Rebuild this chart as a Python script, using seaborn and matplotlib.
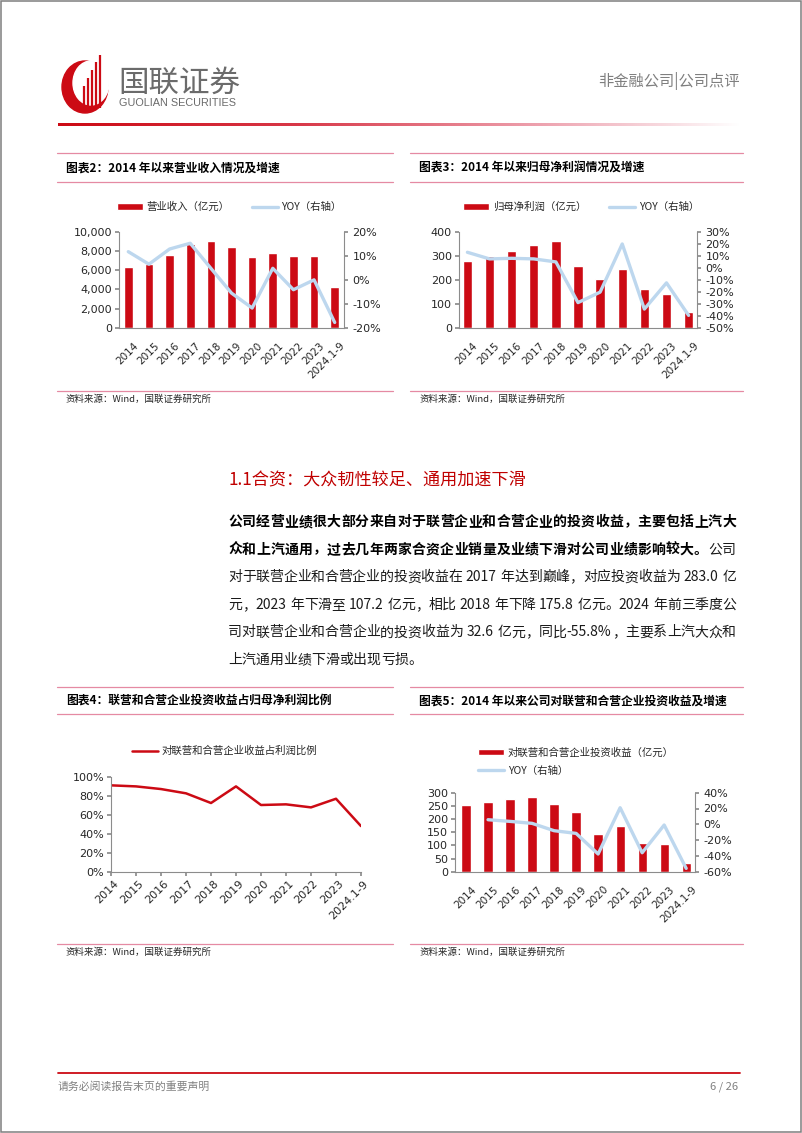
import re
import numpy as np
import pandas as pd
import matplotlib
matplotlib.use('Agg')
import matplotlib.pyplot as plt
import seaborn as sns
from matplotlib.patches import Ellipse, Rectangle
from matplotlib.ticker import FuncFormatter, MultipleLocator
import matplotlib.transforms as mtransforms

W, H = 802, 1133
sns.set_theme(style='white')
plt.rcParams['font.family'] = ['DejaVu Sans', 'Noto Sans CJK SC']
plt.rcParams['axes.unicode_minus'] = False

# ---------------- data ----------------
years = ['2014', '2015', '2016', '2017', '2018', '2019', '2020', '2021', '2022', '2023', '2024.1-9']
revenue = [6300, 6620, 7560, 8700, 9050, 8430, 7420, 7800, 7440, 7450, 4280]
revenue_yoy = [11.7, 6.5, 12.8, 15.2, 4.8, -5.5, -11.7, 4.8, -4.1, 0.0, -17.7]
profit = [279, 298, 321, 344, 361, 256, 204, 245, 161, 141, 67]
profit_yoy = [12.9, 7.4, 7.9, 7.4, 4.9, -28.9, -20.2, 19.8, -34.3, -12.5, -39.5]
ratio = [90.9, 89.8, 87.0, 82.5, 72.3, 89.8, 70.2, 70.9, 67.7, 76.8, 48.0]
invest = [253, 265, 277, 282, 257, 228, 142, 173, 108, 105, 33]
invest_yoy_years = ['2015', '2016', '2017', '2018', '2019', '2020', '2021', '2022', '2023', '2024.1-9']
invest_yoy = [5.8, 3.7, 1.2, -8.1, -11.5, -37.6, 21.0, -36.0, -0.9, -55.8]

RED = '#cc0a14'
BLUE = '#bdd7ee'
GRAY = '#8c8c8c'
PINK = '#e58aa3'
TXT = '#262626'
CJK = ['Noto Sans CJK SC', 'DejaVu Sans']

fig = plt.figure(figsize=(W / 100, H / 100), dpi=100)
ov = fig.add_axes([0, 0, 1, 1], zorder=0)
ov.set_xlim(0, W)
ov.set_ylim(H, 0)
ov.axis('off')


def rect(l, t, r, b):
    return [l / W, 1 - b / H, (r - l) / W, (b - t) / H]


def fig_pt(x, y):
    return (x / W, 1 - y / H)


# ---------------- page decorations ----------------
ov.add_patch(Rectangle((0.8, 0.8), W - 2.2, H - 2.2, fill=False, ec='#7f7f7f', lw=1.1))
# logo
ov.add_patch(Ellipse((85, 87), 46, 52, color=RED, zorder=2))
ov.add_patch(Ellipse((91, 83), 36, 44, color='white', zorder=3))
for xs, top in zip([84, 88, 92, 96, 100], [86, 78, 70, 62, 55]):
    ov.plot([xs, xs], [top, 108], color=RED, lw=1.6, zorder=4, solid_capstyle='butt')
ov.text(118, 83, '国联证券', fontsize=22, color='#6b6b6b', family=CJK, va='center', ha='left')
ov.text(119, 103, 'GUOLIAN SECURITIES', fontsize=7.8, color='#6b6b6b', family=['Liberation Sans'],
        va='center', ha='left')
ov.text(740, 81, '非金融公司|公司点评', fontsize=11, color='#7f7f7f', family=CJK, va='center', ha='right')
# gradient line
grad_ax = fig.add_axes(rect(58, 122.5, 740, 126.5), zorder=1)
g = np.linspace(0, 1, 256)[None, :]
cmap = matplotlib.colors.LinearSegmentedColormap.from_list(
    'g', [(0, RED), (0.35, '#d83848'), (0.7, '#eda0ad'), (0.9, '#f8dde2'), (1, '#ffffff')])
grad_ax.imshow(g, aspect='auto', cmap=cmap)
grad_ax.axis('off')
# footer
ov.plot([58, 740], [1072.5, 1072.5], color=RED, lw=1.3)
ov.text(58, 1087, '请务必阅读报告末页的重要声明', fontsize=7.8, color='#808080', family=CJK, va='center', ha='left')
ov.text(738, 1087, '6 / 26', fontsize=8, color='#808080', family=CJK, va='center', ha='right')


def panel(x0, x1, top, under, src, title, tx):
    ov.plot([x0, x1], [top, top], color=PINK, lw=0.9)
    ov.plot([x0, x1], [under, under], color=PINK, lw=0.9)
    ov.plot([x0, x1], [src, src], color=PINK, lw=0.9)
    ov.text(tx, (top + under) / 2 + 0.5, title, fontsize=8.5, fontweight='bold', color='black',
            family=CJK, va='center', ha='left')
    ov.text(tx, src + 8.5, '资料来源：Wind，国联证券研究所', fontsize=6.8, color=TXT,
            family=CJK, va='center', ha='left')


panel(57, 393, 153, 181.5, 390.5, '图表2：2014 年以来营业收入情况及增速', 66)
panel(410, 743, 153, 181.5, 390.5, '图表3：2014 年以来归母净利润情况及增速', 419)
panel(57, 393, 687, 714, 944, '图表4：联营和合营企业投资收益占归母净利润比例', 66)
panel(410, 743, 687, 714, 944, '图表5：2014 年以来公司对联营和合营企业投资收益及增速', 419)


# ---------------- bar + line charts ----------------
def bar_line(r, bars, bar_label, yoy_x, yoy, ylim, ystep, lfmt, y2lim, y2step, xlim,
             leg_xy, leg_ncol, colspace):
    ax = fig.add_axes(r, zorder=2)
    df = pd.DataFrame({'year': years, 'val': bars})
    sns.barplot(data=df, x='year', y='val', ax=ax, color=RED, width=0.42, saturation=1,
                label=bar_label, legend=False)
    ax2 = ax.twinx()
    pos = [years.index(y) for y in yoy_x]
    sns.lineplot(x=pos, y=yoy, ax=ax2, color=BLUE, lw=2.4, label='YOY（右轴）', legend=False)
    ax.set_xlim(*xlim)
    ax.set_ylim(*ylim)
    ax.yaxis.set_major_locator(MultipleLocator(ystep))
    ax.yaxis.set_major_formatter(FuncFormatter(lfmt))
    ax2.set_ylim(*y2lim)
    ax2.yaxis.set_major_locator(MultipleLocator(y2step))
    ax2.yaxis.set_major_formatter(FuncFormatter(lambda v, p: f'{v:.0f}%'))
    for a in (ax, ax2):
        a.set_xlabel('')
        a.set_ylabel('')
        for s in a.spines.values():
            s.set_color(GRAY)
            s.set_linewidth(0.8)
        a.spines['top'].set_visible(False)
    ax.spines['right'].set_visible(False)
    ax2.spines['left'].set_visible(False)
    ax2.spines['bottom'].set_visible(False)
    ax.tick_params(axis='y', left=True, length=3, color=GRAY, labelsize=8, labelcolor=TXT, pad=2)
    ax2.tick_params(axis='y', right=True, length=3, color=GRAY, labelsize=8, labelcolor=TXT, pad=3)
    ax.tick_params(axis='x', bottom=False, labelsize=7.5, labelcolor=TXT, pad=3)
    ax.set_xticks(range(len(years)))
    ax.set_xticklabels(years, rotation=45, ha='right', rotation_mode='anchor')
    off = mtransforms.ScaledTranslation(5 / 100, 0, fig.dpi_scale_trans)
    for lab in ax.get_xticklabels():
        lab.set_transform(lab.get_transform() + off)
    h1, l1 = ax.get_legend_handles_labels()
    h2, l2 = ax2.get_legend_handles_labels()
    fig.legend(h1 + h2, l1 + l2, loc='center left', bbox_to_anchor=fig_pt(*leg_xy), ncol=leg_ncol,
               frameon=False, prop={'family': CJK, 'size': 7.5}, handlelength=2.5, handleheight=0.6,
               handletextpad=0.35, columnspacing=colspace, borderpad=0, borderaxespad=0,
               labelspacing=0.75, labelcolor=TXT)
    return ax, ax2


bar_line(rect(119, 231.7, 344, 328), revenue, '营业收入（亿元）', years, revenue_yoy,
         (0, 10000), 2000, lambda v, p: f'{v:,.0f}', (-20, 20), 10, (-0.45, 10.45),
         (117, 207), 2, 2.1)
bar_line(rect(459, 231.7, 697, 328), profit, '归母净利润（亿元）', years, profit_yoy,
         (0, 400), 100, lambda v, p: f'{v:.0f}', (-50, 30), 10, (-0.38, 10.38),
         (463, 207), 2, 2.2)
bar_line(rect(455, 792.7, 695, 871.7), invest, '对联营和合营企业投资收益（亿元）', invest_yoy_years,
         invest_yoy, (0, 300), 50, lambda v, p: f'{v:.0f}', (-60, 40), 20, (-0.5, 10.4),
         (478, 761.5), 1, 2.0)

# ---------------- ratio line chart ----------------
ax4 = fig.add_axes(rect(111, 776.7, 361, 871.7), zorder=2)
sns.lineplot(x=list(range(len(years))), y=ratio, ax=ax4, color=RED, lw=1.8,
             label='对联营和合营企业收益占利润比例', legend=False)
ax4.set_xlim(0, len(years) - 1)
ax4.set_ylim(0, 100)
ax4.yaxis.set_major_locator(MultipleLocator(20))
ax4.yaxis.set_major_formatter(FuncFormatter(lambda v, p: f'{v:.0f}%'))
ax4.set_xticks(range(len(years)))
ax4.set_xticklabels(years, rotation=45, ha='right', rotation_mode='anchor')
for s in ax4.spines.values():
    s.set_color(GRAY)
    s.set_linewidth(0.8)
ax4.spines['top'].set_visible(False)
ax4.spines['right'].set_visible(False)
ax4.tick_params(axis='y', left=True, length=3, color=GRAY, labelsize=8, labelcolor=TXT, pad=2)
ax4.tick_params(axis='x', bottom=True, length=3, color=GRAY, labelsize=8, labelcolor=TXT, pad=2)
off4 = mtransforms.ScaledTranslation(2 / 100, 0, fig.dpi_scale_trans)
for lab in ax4.get_xticklabels():
    lab.set_transform(lab.get_transform() + off4)
h4, l4 = ax4.get_legend_handles_labels()
fig.legend(h4, l4, loc='center left', bbox_to_anchor=fig_pt(132, 751), frameon=False,
           prop={'family': CJK, 'size': 7.5}, handlelength=2.5, handletextpad=0.35,
           borderpad=0, borderaxespad=0, labelcolor=TXT)

# ---------------- body text ----------------
ov.text(228, 480, '1.1合资：大众韧性较足、通用加速下滑', fontsize=12.3, color='#c00000',
        family=CJK, va='center', ha='left')

body = [
    [('公司经营业绩很大部分来自对于联营企业和合营企业的投资收益，主要包括上汽大', 'bold')],
    [('众和上汽通用，过去几年两家合资企业销量及业绩下滑对公司业绩影响较大。', 'bold'), ('公司', 'normal')],
    [('对于联营企业和合营企业的投资收益在 2017 年达到巅峰，对应投资收益为 283.0 亿', 'normal')],
    [('元，2023 年下滑至 107.2 亿元，相比 2018 年下降 175.8 亿元。2024 年前三季度公', 'normal')],
    [('司对联营企业和合营企业的投资收益为 32.6 亿元，同比-55.8%，主要系上汽大众和', 'normal')],
    [('上汽通用业绩下滑或出现亏损。', 'normal')],
]
BODY_SIZE = 10
em = BODY_SIZE * 100 / 72
renderer = fig.canvas.get_renderer()
X0, X1 = 228, 736
for i, segs in enumerate(body):
    y = 522 + 27.6 * i
    toks = []
    for s, w in segs:
        for m in re.finditer(r'[0-9A-Za-z.%\-]+| |.', s):
            toks.append((m.group(), w))
    items = []
    for t, w in toks:
        if t == ' ':
            items.append((None, 0.28 * em))
            continue
        col = 'black' if w == 'bold' else '#1a1a1a'
        txt = ov.text(0, y, t, fontsize=BODY_SIZE, fontweight=w, color=col, family=CJK,
                      va='center', ha='left')
        if ord(t[0]) > 0x2E80:
            width = em
        else:
            width = txt.get_window_extent(renderer).width + 0.5
        items.append((txt, width))
    total = sum(wd for _, wd in items)
    last = (i == len(body) - 1)
    extra = 0 if last else (X1 - X0 - total) / max(len(items) - 1, 1)
    x = X0
    for txt, wd in items:
        if txt is not None:
            txt.set_x(x)
        x += wd + extra

fig.savefig('out.png', dpi=100)
